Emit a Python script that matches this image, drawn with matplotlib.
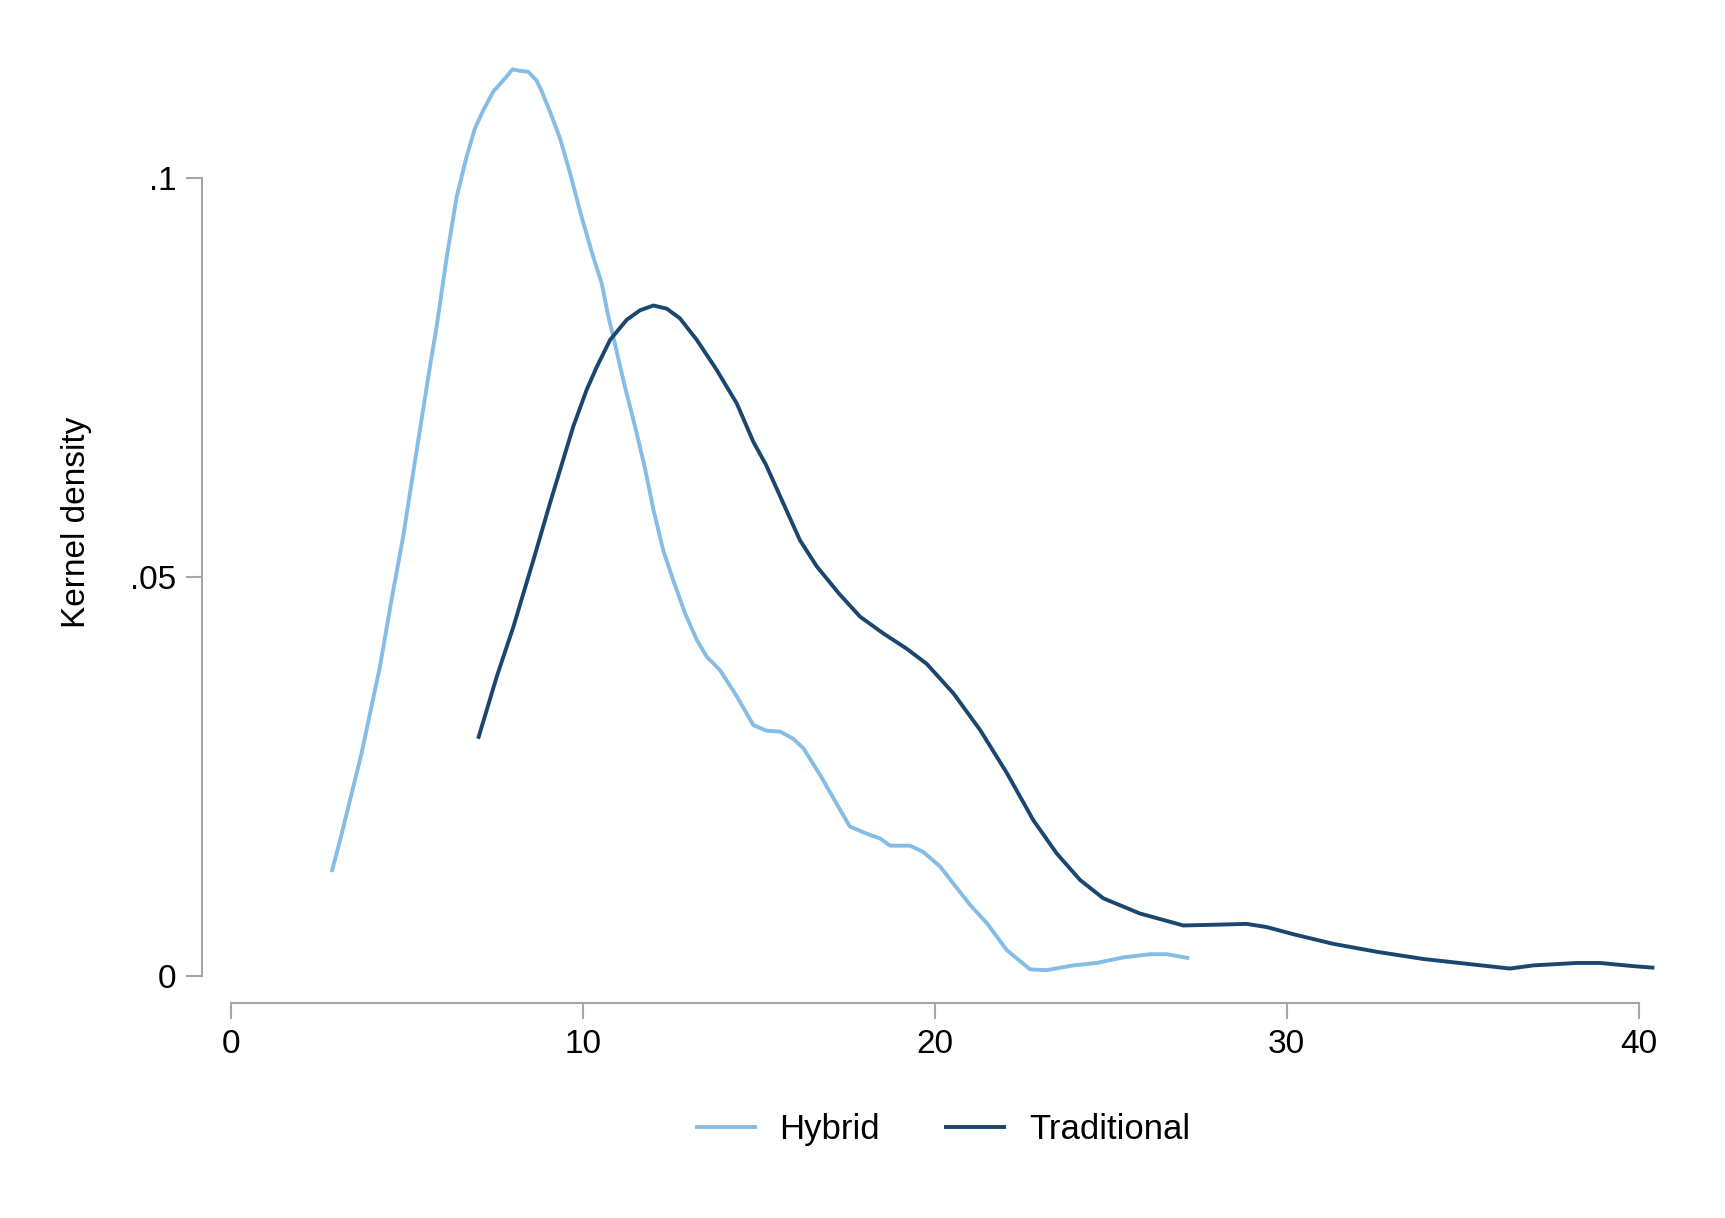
import matplotlib

matplotlib.use("Agg")
import matplotlib.pyplot as plt

# values (kernel density curves)
hybrid_x = [2.87, 3.11, 3.39, 3.72, 3.96, 4.24, 4.57, 4.90, 5.24, 5.66, 5.85, 6.14, 6.42, 6.70,
            6.94, 7.18, 7.46, 7.74, 8.01, 8.22, 8.45, 8.69, 8.84, 9.07, 9.36, 9.64, 9.97, 10.30,
            10.54, 10.73, 10.87, 11.15, 11.49, 11.77, 12.01, 12.29, 12.57, 12.91, 13.24, 13.52,
            13.90, 14.38, 14.85, 15.23, 15.61, 15.98, 16.27, 16.74, 17.26, 17.59, 18.07, 18.45,
            18.73, 19.30, 19.68, 20.15, 21.00, 21.48, 22.05, 22.71, 23.18, 23.94, 24.60, 25.36,
            26.12, 26.59, 27.23]
hybrid_y = [0.0130, 0.0170, 0.0220, 0.0279, 0.0329, 0.0387, 0.0471, 0.0550, 0.0646, 0.0763,
            0.0813, 0.0901, 0.0976, 0.1026, 0.1062, 0.1085, 0.1108, 0.1122, 0.1136, 0.1134,
            0.1133, 0.1122, 0.1108, 0.1083, 0.1049, 0.1006, 0.0951, 0.0901, 0.0868, 0.0826,
            0.0801, 0.0747, 0.0688, 0.0636, 0.0584, 0.0533, 0.0496, 0.0454, 0.0421, 0.0400,
            0.0383, 0.0350, 0.0314, 0.0307, 0.0306, 0.0297, 0.0285, 0.0252, 0.0212, 0.0187,
            0.0178, 0.0172, 0.0163, 0.0163, 0.0155, 0.0137, 0.0089, 0.0066, 0.0032, 0.0008,
            0.0007, 0.0013, 0.0016, 0.0023, 0.0027, 0.0027, 0.0022]

trad_x = [7.03, 7.56, 8.03, 8.60, 9.07, 9.40, 9.73, 10.11, 10.40, 10.78, 11.25, 11.63, 12.01,
          12.39, 12.76, 13.24, 13.81, 14.38, 14.85, 15.20, 15.70, 16.17, 16.65, 17.28, 17.88,
          18.54, 19.20, 19.77, 20.53, 21.29, 22.05, 22.80, 23.47, 24.13, 24.79, 25.83, 27.06,
          28.01, 28.86, 29.43, 30.19, 31.32, 32.56, 33.88, 35.11, 36.34, 37.01, 38.24,
          38.90, 39.85, 40.44]
trad_y = [0.0297, 0.0375, 0.0437, 0.0521, 0.0592, 0.0640, 0.0688, 0.0734, 0.0763, 0.0797,
          0.0822, 0.0834, 0.0840, 0.0836, 0.0824, 0.0797, 0.0759, 0.0717, 0.0669, 0.0641,
          0.0592, 0.0546, 0.0513, 0.0479, 0.0450, 0.0429, 0.0410, 0.0391, 0.0354, 0.0308,
          0.0254, 0.0195, 0.0153, 0.0120, 0.0097, 0.0078, 0.0063, 0.0064, 0.0065,
          0.0061, 0.0052, 0.0040, 0.0030, 0.0021, 0.0015, 0.0009, 0.0013, 0.0016, 0.0016,
          0.0012, 0.0010]

x_ticks = [0, 10, 20, 30, 40]
y_ticks = [0, 0.05, 0.1]
y_ticklabels = ["0", ".05", ".1"]

plt.rcParams["font.family"] = ["Liberation Sans", "DejaVu Sans"]

fig = plt.figure(figsize=(17.25, 12.18), dpi=100)
ax = fig.add_axes([0.1337, 0.1989, 0.8253, 0.7442])

line_kw = dict(linewidth=2.8, solid_joinstyle="round", solid_capstyle="butt", clip_on=False)
ax.plot(hybrid_x, hybrid_y, color="#85bde6", label="Hybrid", **line_kw)
ax.plot(trad_x, trad_y, color="#1a476f", label="Traditional", **line_kw)

ax.set_xlim(0, 40.44)
ax.set_ylim(0, 0.1136)

# Stata-style detached axes
axis_grey = "#a6a6a6"
for side in ("top", "right"):
    ax.spines[side].set_visible(False)
ax.spines["left"].set_position(("outward", 20.4))
ax.spines["bottom"].set_position(("outward", 19.9))
ax.spines["left"].set_bounds(0, 0.1)
ax.spines["bottom"].set_bounds(0, 40)
for side in ("left", "bottom"):
    ax.spines[side].set_color(axis_grey)
    ax.spines[side].set_linewidth(1.5)

ax.set_xticks(x_ticks)
ax.set_yticks(y_ticks)
ax.set_yticklabels(y_ticklabels)
ax.tick_params(axis="both", colors=axis_grey, labelcolor="black", width=1.5,
               length=11.5, labelsize=24, pad=7)

ax.set_ylabel("Kernel density", fontsize=24)
ax.yaxis.set_label_coords(-0.0974, 0.5)

fig.legend(loc="center", bbox_to_anchor=(942.5 / 1725, 0.0728), ncol=2, frameon=False,
           fontsize=25, handlelength=1.78, handletextpad=0.66, columnspacing=1.85)

fig.savefig("out.png", dpi=100, facecolor="white")
plt.close()
